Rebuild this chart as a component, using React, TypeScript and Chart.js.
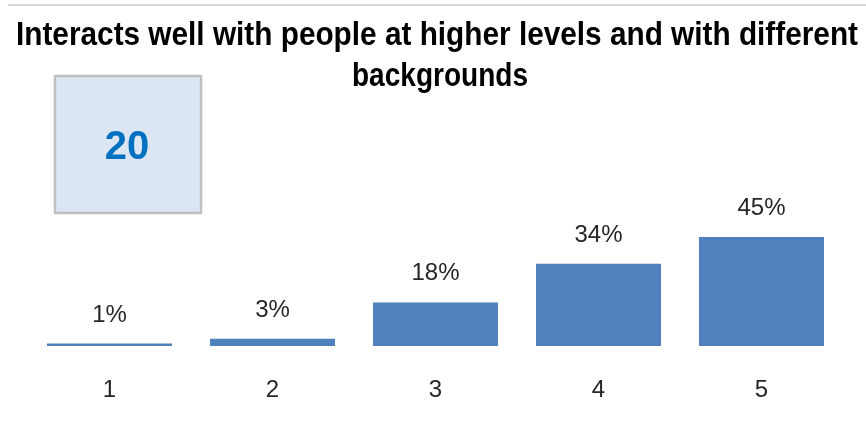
import React, { useEffect, useRef } from "react";
import { Chart, registerables } from "chart.js";

Chart.register(...registerables);

const titleLines = ["Interacts well with people at higher levels and with different", "backgrounds"];
const categories = ["1", "2", "3", "4", "5"];
const values = [1, 3, 18, 34, 45];
const valueLabels = ["1%", "3%", "18%", "34%", "45%"];
const countLabel = "20";

const overlayPlugin = {
  id: "overlay",
  afterDraw(chart: any) {
    const ctx = chart.ctx as CanvasRenderingContext2D;
    ctx.save();
    // top rule
    ctx.strokeStyle = "#d9d9d9";
    ctx.lineWidth = 2;
    ctx.beginPath();
    ctx.moveTo(8, 5);
    ctx.lineTo(866, 5);
    ctx.stroke();

    // title
    ctx.fillStyle = "#000000";
    ctx.textAlign = "center";
    ctx.textBaseline = "alphabetic";
    ctx.font = "bold 33px 'Liberation Sans', Arial, sans-serif";
    ctx.fillText(titleLines[0], 437, 45, 842);
    ctx.fillText(titleLines[1], 440, 86, 176);

    // count box
    ctx.fillStyle = "#dce6f2";
    ctx.fillRect(55, 76, 146, 137);
    ctx.strokeStyle = "#bfbfbf";
    ctx.lineWidth = 2.5;
    ctx.strokeRect(55, 76, 146, 137);
    ctx.fillStyle = "#0070c0";
    ctx.font = "bold 40px 'Liberation Sans', Arial, sans-serif";
    ctx.textBaseline = "middle";
    ctx.fillText(countLabel, 127, 148);

    // data labels
    const meta = chart.getDatasetMeta(0);
    ctx.fillStyle = "#262626";
    ctx.font = "24px 'Liberation Sans', Arial, sans-serif";
    ctx.textBaseline = "alphabetic";
    meta.data.forEach((bar: any, i: number) => {
      ctx.fillText(valueLabels[i], bar.x, bar.y - 22);
    });
    ctx.restore();
  },
};

export default function App() {
  const ref = useRef<HTMLCanvasElement | null>(null);
  useEffect(() => {
    if (!ref.current) return;
    const chart = new Chart(ref.current, {
      type: "bar",
      data: {
        labels: categories,
        datasets: [
          {
            data: values,
            backgroundColor: "#4f81bd",
            borderWidth: 0,
            categoryPercentage: 1,
            barPercentage: 0.767,
          },
        ],
      },
      options: {
        animation: false,
        responsive: false,
        maintainAspectRatio: false,
        layout: { padding: { top: 225, left: 28, right: 23, bottom: 21 } },
        plugins: { legend: { display: false }, title: { display: false }, tooltip: { enabled: false } },
        scales: {
          x: {
            grid: { display: false, drawTicks: false },
            border: { display: false },
            afterFit: (scale: any) => {
              scale.height = 56;
            },
            ticks: {
              padding: 30,
              color: "#262626",
              font: { family: "'Liberation Sans', Arial, sans-serif", size: 24 },
            },
          },
          y: { display: false, min: 0, max: 50 },
        },
      },
      plugins: [overlayPlugin],
    });
    return () => chart.destroy();
  }, []);
  return (
    <div style={{ position: "fixed", left: 0, top: 0, width: 866, height: 423, background: "#fff" }}>
      <canvas ref={ref} width={866} height={423} style={{ width: 866, height: 423 }} />
    </div>
  );
}
